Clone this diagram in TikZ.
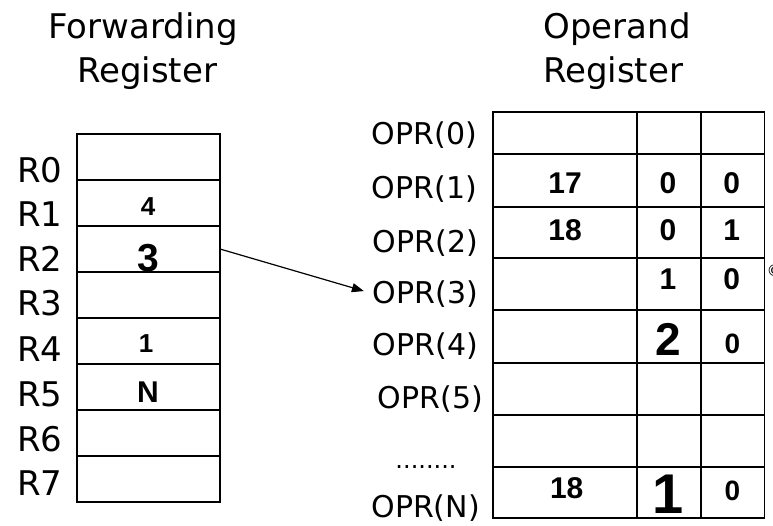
\documentclass[tikz,border=0pt]{standalone}
\usepackage{fontspec}
\setmainfont{DejaVu Sans}
\newfontfamily\numfont{Liberation Sans}
\usetikzlibrary{arrows.meta}
\begin{document}
\begin{tikzpicture}[x=1pt,y=-1pt,
  cell/.style={draw,line width=1.6pt,inner sep=0pt,outer sep=0pt},
  ttl/.style={inner sep=0pt,anchor=base,font=\fontsize{34}{38}\selectfont},
  rl/.style={inner sep=0pt,anchor=base west,font=\fontsize{34}{38}\selectfont},
  opr/.style={inner sep=0pt,anchor=base east,font=\fontsize{30}{34}\selectfont},
  val/.style={inner sep=0pt,anchor=base,font=\numfont\bfseries\fontsize{#1}{#1}\selectfont},
  link/.style={-{Triangle[length=12pt,width=9pt]},line width=1.2pt}
]
\useasboundingbox (0,0) rectangle (773,525);

% titles
\node[ttl] (t1a) at (143,38) {Forwarding};
\node[ttl] (t1b) at (147,82) {Register};
\node[ttl] (t2a) at (617,38) {Operand};
\node[ttl] (t2b) at (613,82) {Register};

% forwarding register
\foreach \i in {0,...,7}
  \node[cell,minimum width=143pt,minimum height=46pt] (fr\i) at (148.5,{157+46*\i}) {};
\foreach \i/\b in {0/182,1/226,2/271,3/315,4/361,5/406,6/451,7/495}
  \node[rl] (rl\i) at (17,\b) {R\i};
\node[val=26] (v4) at (148,215) {4};
\node[val=39] (v3) at (148,271.5) {3};
\node[val=26] (v1) at (146,352.5) {1};
\node[val=30] (vN) at (148,402) {N};

% operand register
\foreach \t/\h [count=\r from 0] in {112/42,154/53,207/51,258/52,310/53,363/52,415/52,467/51}
  \foreach \c/\w/\x in {a/144/564.7,b/64/668.7,c/63.6/732.5}
    \node[cell,minimum width=\w pt,minimum height=\h pt] (op\r\c) at ({\x},{\t+\h/2}) {};

\node[opr] (opr0) at (477,144) {OPR(0)};
\node[opr] (opr1) at (477,198) {OPR(1)};
\node[opr] (opr2) at (478,252) {OPR(2)};
\node[opr] (opr3) at (478,303) {OPR(3)};
\node[opr] (opr4) at (478,355) {OPR(4)};
\node[opr] (opr5) at (483,408) {OPR(5)};
\node[inner sep=0pt,anchor=base,font=\fontsize{24}{26}\selectfont] (dots) at (426,468) {........};
\node[opr] (oprN) at (480,517) {OPR(N)};

% operand values
\node[val=30] (a17) at (565,193.3) {17};
\node[val=30] (b1)  at (668,193.3) {0};
\node[val=30] (c1)  at (731.7,193.3) {0};
\node[val=30] (a18) at (565,240) {18};
\node[val=30] (b2)  at (668,240) {0};
\node[val=30] (c2)  at (731.7,240) {1};
\node[val=30] (b3)  at (668,289.3) {1};
\node[val=30] (c3)  at (731.7,289.3) {0};
\node[val=46] (b4)  at (668,355) {2};
\node[val=28] (c4)  at (732.5,353) {0};
\node[val=30] (aN)  at (566.7,498.3) {18};
\node[val=56] (bN)  at (668,513) {1};
\node[val=28] (cN)  at (732.5,500) {0};

% clipped mark at the right edge
\node[inner sep=0pt,anchor=west,font=\fontsize{16}{16}\selectfont] (cut) at (766.5,271) {©};

% arrow
\draw[link,shorten >=9pt] (fr2.east) -- (opr3.west);
\end{tikzpicture}
\end{document}
